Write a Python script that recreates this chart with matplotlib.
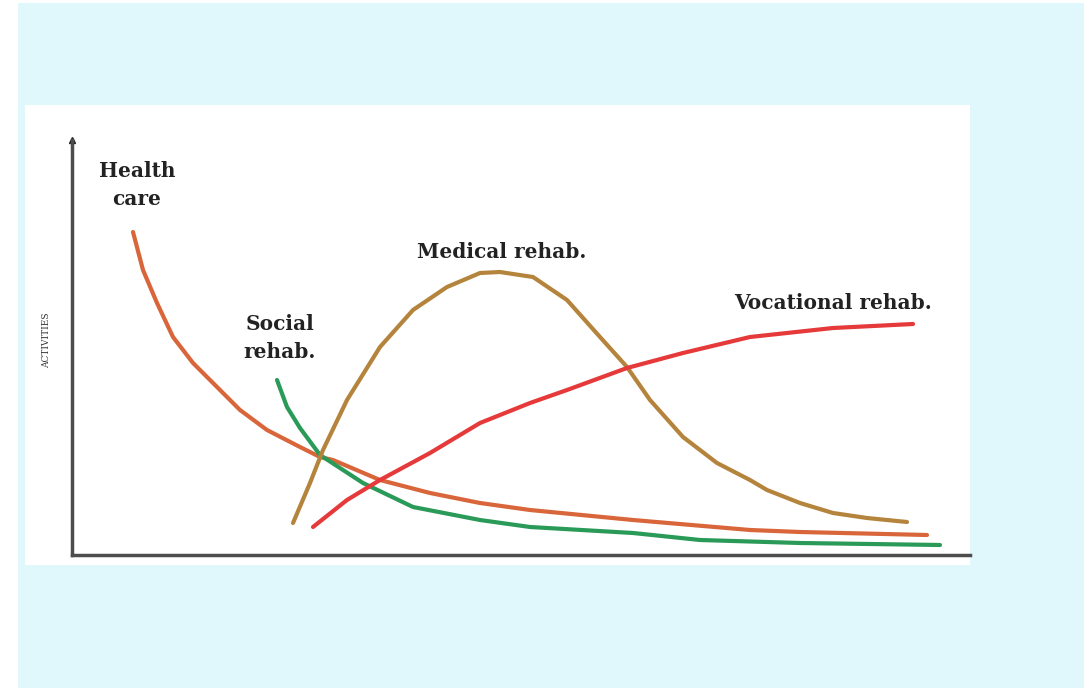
import numpy as np
import matplotlib
matplotlib.use('Agg')
from matplotlib import pyplot as plt
from matplotlib.patches import Rectangle

# curve values (x = time, y = activity level, arbitrary units)
health_x = [61, 71, 85, 101, 121, 145, 168, 195, 228, 248, 261, 308, 358, 408, 458, 561, 678, 728, 855]
health_y = [323, 285, 252, 218, 192, 168, 145, 125, 108, 98, 95, 75, 62, 52, 45, 35, 25, 23, 20]

social_x = [205, 215, 228, 248, 291, 341, 408, 458, 561, 628, 728, 868]
social_y = [175, 148, 127, 100, 72, 48, 35, 28, 22, 15, 12, 10]

medical_x = [221, 238, 251, 275, 308, 341, 375, 408, 428, 441, 461, 495, 528, 555, 578, 611,
             645, 678, 695, 728, 761, 795, 835]
medical_y = [32, 72, 105, 155, 208, 245, 268, 282, 283, 281, 278, 255, 218, 188, 155, 118,
             92, 75, 65, 52, 42, 37, 33]

vocational_x = [241, 275, 308, 358, 408, 458, 495, 555, 611, 678, 761, 841]
vocational_y = [28, 55, 75, 102, 132, 152, 165, 187, 202, 218, 227, 231]

W, H = 1084, 688
fig = plt.figure(figsize=(W / 100, H / 100), dpi=100)
fig.patch.set_facecolor('white')

# cyan slide background and white panel
fig.add_artist(Rectangle((18 / W, 0), 1 - 18 / W, 1 - 3 / H, transform=fig.transFigure,
                         facecolor='#e0f8fb', edgecolor='none', zorder=-10))
fig.add_artist(Rectangle((25 / W, 1 - 565 / H), 945 / W, 460 / H, transform=fig.transFigure,
                         facecolor='white', edgecolor='none', zorder=-9))

x0, x1, ytop, ybot = 72, 970, 140, 555
ax = fig.add_axes([x0 / W, 1 - ybot / H, (x1 - x0) / W, (ybot - ytop) / H])
ax.set_facecolor('none')
ax.set_xlim(0, x1 - x0)
ax.set_ylim(0, ybot - ytop)

for s in ['top', 'right']:
    ax.spines[s].set_visible(False)
for s in ['left', 'bottom']:
    ax.spines[s].set_color('#4d4d4d')
    ax.spines[s].set_linewidth(2.5)
ax.set_xticks([])
ax.set_yticks([])
ax.plot([0], [ybot - ytop], marker='^', color='#222222', markersize=5, clip_on=False)

lw = 3
style = dict(lw=lw, solid_capstyle='round', solid_joinstyle='round')
ax.plot(health_x, health_y, color='#d9653a', **style)
ax.plot(social_x, social_y, color='#2a9a58', **style)
ax.plot(medical_x, medical_y, color='#b5843c', **style)
ax.plot(vocational_x, vocational_y, color='#e5393a', **style)

lab = dict(family='DejaVu Serif', fontweight='bold', fontsize=14.5, color='#222222',
           ha='center', va='center', linespacing=1.45)
ax.text(137 - x0, ybot - 185, 'Health\ncare', **lab)
ax.text(280 - x0, ybot - 338, 'Social\nrehab.', **lab)
ax.text(502 - x0, ybot - 252, 'Medical rehab.', **lab)
ax.text(833 - x0, ybot - 303, 'Vocational rehab.', **lab)

fig.text(47 / W, 1 - 340 / H, 'ACTIVITIES', family='DejaVu Serif', fontsize=6.5,
         color='#333333', rotation=90, ha='center', va='center')

fig.savefig('out.png', dpi=100, facecolor=fig.get_facecolor())
